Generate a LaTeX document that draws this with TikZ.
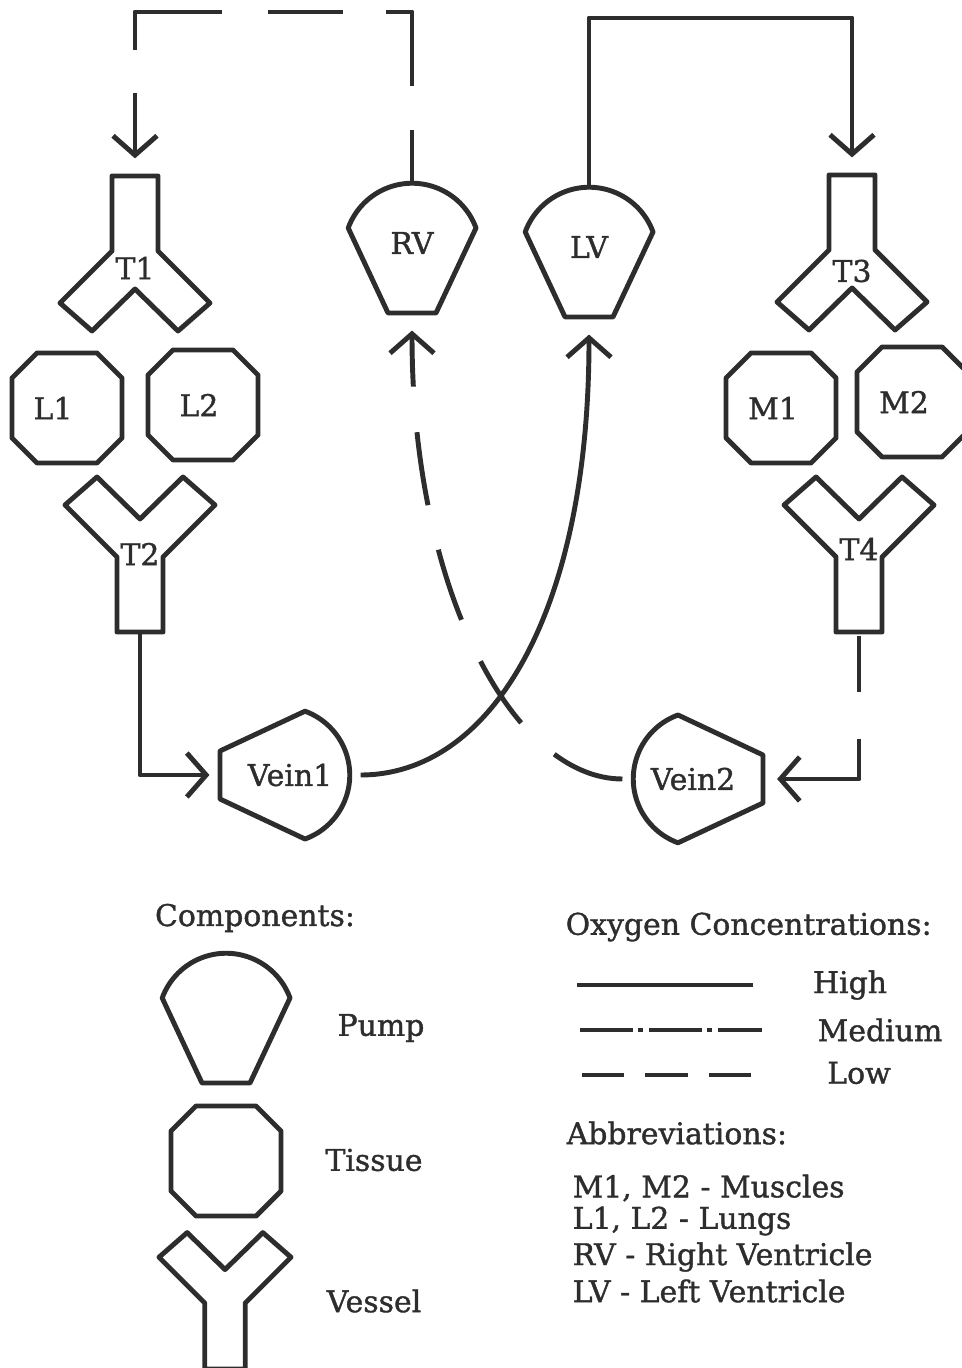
\documentclass[tikz,border=0pt]{standalone}
\usepackage{fontspec}
\setmainfont{DejaVu Serif}[FakeBold=1.2]
\usepackage{tikz}
\usetikzlibrary{arrows.meta,calc}

\definecolor{ink}{RGB}{45,45,45}

\begin{document}
\begin{tikzpicture}[x=0.01cm, y=0.01cm, line join=round,
    outline/.style={draw=ink, line width=1.4pt},
    lbl/.style={text=ink, font=\fontsize{8.5}{10}\selectfont, inner sep=0pt},
    high/.style={draw=ink, line width=1.4pt},
    medium/.style={draw=ink, line width=1.4pt, dash pattern=on 15pt off 1.6pt on 1.4pt off 1.6pt},
    low/.style={draw=ink, line width=1.4pt, dash pattern=on 21pt off 13pt},
    flow/.style={-{Straight Barb[length=5.5pt, width=12.5pt]}},
    pics/pump/.style={code={
        \draw[outline] (24,-70) -- (64,15) arc[start angle=20, end angle=160, radius=68] -- (-24,-70) -- cycle;
        \node[lbl] (-c) {#1};
        \coordinate (-top) at (0,60);
        \coordinate (-bot) at (0,-70);
    }},
    pics/tissue/.style 2 args={code={
        \draw[outline] (-55,-30) -- (-55,30) -- (-30,55) -- (30,55) -- (55,30) -- (55,-30) -- (30,-55) -- (-30,-55) -- cycle;
        \node[lbl] (-c) at (#2,0) {#1};
    }},
    pics/vessel/.style 2 args={code={
        \draw[outline] (-23,-75) -- (23,-75) -- (23,0) -- (75,52) -- (43,80) -- (0,38) -- (-43,80) -- (-75,52) -- (-23,0) -- cycle;
        \node[lbl] (-c) at (0,#2) {#1};
        \coordinate (-end) at (0,-75);
    }},
]
    \useasboundingbox (0,0) rectangle (962,-1368);

    \pic[yscale=-1] (t1) at (135,-251) {vessel={T1}{17}};
    \pic (l1) at (67,-408) {tissue={L1}{-14}};
    \pic (l2) at (203,-405) {tissue={L2}{-4}};
    \pic (t2) at (140,-557) {vessel={T2}{3}};

    \pic (rv) at (412,-243) {pump=RV};
    \pic (lv) at (589,-247) {pump=LV};

    \pic[yscale=-1] (t3) at (852,-250) {vessel={T3}{21}};
    \pic (m1) at (781,-408) {tissue={M1}{-8}};
    \pic (m2) at (912,-402) {tissue={M2}{-8}};
    \pic (t4) at (859,-557) {vessel={T4}{8}};

    \pic[rotate=-90] (v1) at (290,-775) {pump=Vein1};
    \pic[rotate=90] (v2) at (693,-779) {pump=Vein2};

    \coordinate (lowtop) at (0,-12);
    \coordinate (hightop) at (0,-18);

    \draw[low, dash pattern=on 15pt off 12.5pt on 28.6pt off 12.2pt on 21.3pt off 13pt on 35.7pt off 12.2pt on 18pt off 5pt,
        flow, shorten >=5pt] (rv-top) -- (rv-top |- lowtop) -| (t1-end);
    \draw[high, flow, shorten >=5pt] (lv-top) -- (lv-top |- hightop) -| (t3-end);
    \draw[high, flow, shorten >=3pt] (t2-end) |- (v1-bot);
    \draw[low, dash pattern=on 16pt off 13.5pt on 40pt off 2pt, flow, shorten <=1pt, shorten >=4pt] (t4-end) |- (v2-bot);
    \draw[high, flow, shorten <=3pt, shorten >=5pt] (v1-top) .. controls +(140,0) and +(0,-298) .. (lv-bot);
    \draw[low, flow, shorten <=3pt, shorten >=5pt] (v2-top) .. controls +(-120,0) and +(0,-277) .. (rv-bot);

    \node[lbl] (components) at (255,-918) {Components:};
    \pic (legpump) at (226,-1013) {pump={}};
    \pic (legtissue) at (226,-1161) {tissue={}{0}};
    \pic[scale=0.88] (legvessel) at (225,-1303) {vessel={}{0}};
    \node[lbl] (pump) at (381,-1028) {Pump};
    \node[lbl] (tissue) at (374,-1160) {Tissue};
    \node[lbl] (vessel) at (374,-1301) {Vessel};

    \node[lbl, anchor=west] (oxygen) at (565,-927) {Oxygen Concentrations:};
    \draw[high] (577,-985) -- (753,-985);
    \draw[medium] (580,-1030) -- (762,-1030);
    \draw[low, dash pattern=on 12pt off 6pt] (582,-1075) -- (767,-1075);
    \node[lbl] (highlbl) at (850,-985) {High};
    \node[lbl] (mediumlbl) at (880,-1030) {Medium};
    \node[lbl] (lowlbl) at (859,-1073) {Low};

    \node[lbl, anchor=west] (abbrev) at (566,-1133) {Abbreviations:};
    \node[lbl, anchor=west] (abmuscle) at (572,-1188) {M1, M2 - Muscles};
    \node[lbl, anchor=west] (ablung) at (572,-1221) {L1, L2 - Lungs};
    \node[lbl, anchor=west] (abrv) at (572,-1257) {RV - Right Ventricle};
    \node[lbl, anchor=west] (ablv) at (572,-1291) {LV - Left Ventricle};
\end{tikzpicture}
\end{document}
